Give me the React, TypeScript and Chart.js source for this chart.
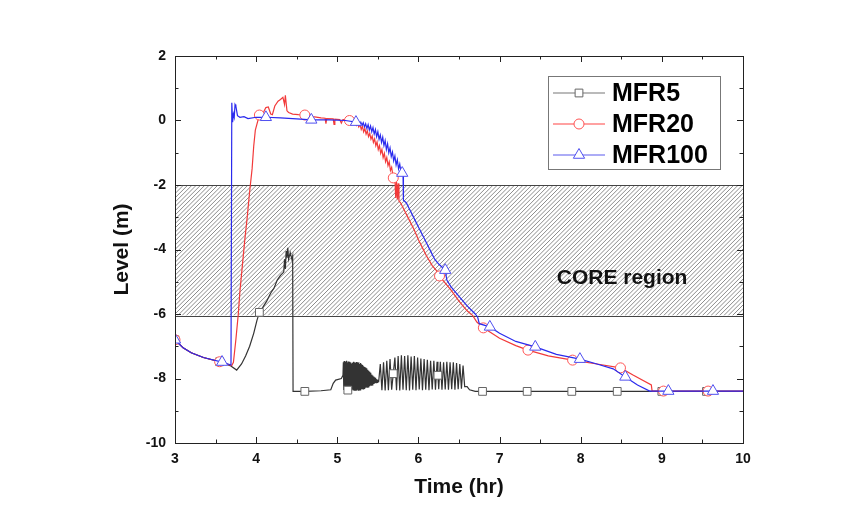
import React, { useEffect, useRef } from "react";
import { Chart, registerables } from "chart.js";

Chart.register(...registerables);

// ---------- data ----------
const seriesNames = ["MFR5", "MFR20", "MFR100"];
const xMajorTicks = [3, 4, 5, 6, 7, 8, 9, 10];
const yMajorTicks = [2, 0, -2, -4, -6, -8, -10];
const coreRegion = [-2, -6.05];
const coreLabel = "CORE region";
const xTitle = "Time (hr)";
const yTitle = "Level (m)";

const mfr5: [number, number][] = [
  [3.0, -6.8], [3.1, -7.05], [3.2, -7.2], [3.35, -7.35], [3.55, -7.48], [3.68, -7.6], [3.76, -7.74],
  [3.82, -7.55], [3.87, -7.3], [3.92, -7.0], [3.97, -6.6], [4.01, -6.2], [4.04, -5.95], [4.08, -5.8],
  [4.13, -5.6], [4.18, -5.35], [4.22, -5.2], [4.26, -4.95], [4.3, -4.8], [4.34, -4.7], [4.35, -4.3],
  [4.36, -4.6], [4.37, -4.05], [4.38, -4.25], [4.39, -3.95], [4.4, -4.3], [4.42, -4.1], [4.44, -4.3],
  [4.45, -4.2], [4.455, -8.4], [4.6, -8.4], [4.8, -8.38], [4.92, -8.35], [4.95, -8.15], [4.98, -8.05],
  [5.05, -8.0], [5.07, -7.9],
  [5.075, -7.5], [5.08, -8.36], [5.085, -7.46], [5.09, -8.38], [5.095, -7.5], [5.1, -8.36], [5.105, -7.48],
  [5.11, -8.37], [5.115, -7.45], [5.12, -8.35], [5.125, -7.5], [5.13, -8.36], [5.135, -7.47], [5.14, -8.38],
  [5.145, -7.52], [5.15, -8.37], [5.155, -7.48], [5.16, -8.35], [5.165, -7.5], [5.17, -8.36], [5.175, -7.54],
  [5.18, -8.34], [5.185, -7.52], [5.19, -8.35], [5.195, -7.5], [5.2, -8.37], [5.205, -7.48], [5.21, -8.36],
  [5.215, -7.5], [5.22, -8.35], [5.225, -7.52], [5.23, -8.36], [5.235, -7.49], [5.24, -8.37], [5.245, -7.5],
  [5.25, -8.35], [5.255, -7.53], [5.26, -8.36], [5.265, -7.5], [5.27, -8.34], [5.275, -7.55], [5.28, -8.35],
  [5.285, -7.52], [5.29, -8.34], [5.295, -7.56], [5.3, -8.33], [5.305, -7.58], [5.31, -8.33], [5.315, -7.6],
  [5.32, -8.32], [5.325, -7.62], [5.33, -8.31], [5.335, -7.64], [5.34, -8.3], [5.345, -7.66], [5.35, -8.29],
  [5.355, -7.68], [5.36, -8.28], [5.365, -7.7], [5.37, -8.27], [5.375, -7.73], [5.38, -8.26], [5.385, -7.76],
  [5.39, -8.25], [5.395, -7.79], [5.4, -8.24], [5.405, -7.82], [5.41, -8.22], [5.415, -7.85], [5.42, -8.21],
  [5.425, -7.88], [5.43, -8.2], [5.435, -7.91], [5.44, -8.18], [5.445, -7.94], [5.45, -8.17], [5.455, -7.96],
  [5.46, -8.15], [5.465, -7.98], [5.47, -8.14], [5.475, -8.0], [5.48, -8.13], [5.485, -8.02], [5.49, -8.12],
  [5.495, -8.04], [5.5, -8.1], [5.51, -8.1],
  [5.53, -7.55], [5.55, -8.36], [5.57, -7.5], [5.59, -8.37], [5.61, -7.45], [5.63, -8.36], [5.65, -7.4],
  [5.67, -8.35], [5.69, -7.85], [5.71, -7.35], [5.73, -8.36], [5.75, -7.3], [5.77, -8.37], [5.79, -7.28],
  [5.81, -8.35], [5.83, -7.3], [5.85, -8.36], [5.87, -7.28], [5.89, -8.37], [5.91, -7.32], [5.93, -8.35],
  [5.95, -7.3], [5.97, -8.36], [5.99, -7.35], [6.01, -8.34], [6.03, -7.38], [6.05, -8.36], [6.07, -7.4],
  [6.09, -8.35], [6.11, -7.42], [6.13, -8.36], [6.15, -7.45], [6.17, -8.34], [6.19, -7.45], [6.21, -8.35],
  [6.23, -7.48], [6.24, -7.9], [6.25, -8.33], [6.27, -7.48], [6.29, -8.35], [6.31, -7.5], [6.33, -8.34],
  [6.35, -7.48], [6.37, -8.35], [6.39, -7.5], [6.41, -8.33], [6.43, -7.5], [6.45, -8.35], [6.47, -7.52],
  [6.49, -8.33], [6.51, -7.55], [6.53, -8.32], [6.55, -7.6], [6.57, -8.25], [6.6, -8.25], [6.63, -8.35],
  [6.7, -8.4], [6.79, -8.4], [7.34, -8.4], [7.89, -8.4], [8.45, -8.4], [9.0, -8.4], [9.55, -8.4], [10.0, -8.4],
];

const mfr20: [number, number][] = [
  [3.0, -6.8], [3.1, -7.05], [3.2, -7.2], [3.35, -7.35], [3.55, -7.48], [3.7, -7.6], [3.72, -7.5],
  [3.75, -6.8], [3.78, -6.0], [3.8, -5.3], [3.83, -4.5], [3.86, -3.7], [3.89, -3.0], [3.92, -2.2],
  [3.95, -1.5], [3.97, -0.8], [3.99, -0.3], [4.04, 0.17], [4.08, 0.2], [4.12, 0.4], [4.15, 0.42],
  [4.18, 0.2], [4.2, 0.18], [4.23, 0.45], [4.27, 0.6], [4.3, 0.65], [4.33, 0.72], [4.35, 0.5],
  [4.36, 0.78], [4.38, 0.3], [4.4, 0.25], [4.45, 0.2], [4.52, 0.18], [4.6, 0.17], [4.7, 0.12],
  [4.8, 0.08], [4.85, 0.07], [4.86, -0.1], [4.87, 0.06], [4.95, 0.05], [4.96, -0.12], [4.97, 0.04],
  [5.03, 0.03], [5.05, -0.08], [5.07, 0.03], [5.12, 0.02], [5.14, -0.1], [5.15, 0.0], [5.22, -0.05],
  [5.235, -0.15], [5.25, -0.08], [5.265, -0.2], [5.28, -0.12], [5.295, -0.28], [5.31, -0.18], [5.325, -0.35],
  [5.34, -0.25], [5.355, -0.42], [5.37, -0.32], [5.385, -0.5], [5.4, -0.4], [5.415, -0.58], [5.43, -0.48],
  [5.445, -0.68], [5.46, -0.57], [5.475, -0.78], [5.49, -0.66], [5.505, -0.9], [5.52, -0.78], [5.535, -1.02],
  [5.55, -0.9], [5.565, -1.15], [5.58, -1.02], [5.595, -1.28], [5.61, -1.15], [5.625, -1.4], [5.64, -1.28],
  [5.655, -1.55], [5.67, -1.45], [5.69, -1.78], [5.71, -1.8], [5.72, -2.4], [5.73, -1.9], [5.74, -2.45],
  [5.75, -1.95], [5.76, -2.5], [5.78, -2.55], [5.82, -2.75], [5.88, -3.05], [5.95, -3.4], [6.0, -3.7],
  [6.05, -3.95], [6.1, -4.2], [6.17, -4.5], [6.22, -4.65], [6.26, -4.82], [6.3, -4.95], [6.4, -5.25],
  [6.5, -5.6], [6.6, -5.9], [6.67, -6.05], [6.72, -6.25], [6.8, -6.43], [7.0, -6.75], [7.2, -6.98],
  [7.35, -7.12], [7.6, -7.3], [7.9, -7.43], [8.2, -7.55], [8.49, -7.67], [8.65, -7.9], [8.87, -8.2],
  [8.88, -8.39], [9.02, -8.39], [9.57, -8.39], [10.0, -8.39],
];

const mfr100: [number, number][] = [
  [3.0, -6.8], [3.1, -7.05], [3.2, -7.2], [3.35, -7.35], [3.58, -7.49], [3.69, -7.58], [3.7, 0.55],
  [3.71, -0.05], [3.72, 0.2], [3.73, 0.1], [3.74, 0.5], [3.75, 0.45], [3.77, 0.15], [3.8, 0.1],
  [3.85, 0.12], [3.9, 0.06], [4.0, 0.1], [4.12, 0.1], [4.3, 0.08], [4.5, 0.05], [4.68, 0.02],
  [4.9, 0.02], [5.1, 0.0], [5.23, -0.05], [5.245, 0.0], [5.26, -0.02], [5.275, -0.12], [5.29, -0.05],
  [5.305, -0.15], [5.32, -0.07], [5.335, -0.2], [5.35, -0.1], [5.365, -0.25], [5.38, -0.13], [5.395, -0.3],
  [5.41, -0.17], [5.425, -0.35], [5.44, -0.22], [5.455, -0.42], [5.47, -0.28], [5.485, -0.5], [5.5, -0.35],
  [5.515, -0.58], [5.53, -0.45], [5.545, -0.68], [5.56, -0.52], [5.575, -0.78], [5.59, -0.62], [5.605, -0.9],
  [5.62, -0.72], [5.635, -1.0], [5.65, -0.85], [5.665, -1.12], [5.68, -0.98], [5.695, -1.25], [5.71, -1.1],
  [5.725, -1.38], [5.74, -1.22], [5.755, -1.5], [5.77, -1.35], [5.785, -1.6], [5.8, -1.63], [5.81, -1.65],
  [5.815, -2.47], [5.85, -2.55], [5.9, -2.8], [5.95, -3.05], [6.0, -3.3], [6.05, -3.55], [6.1, -3.8],
  [6.15, -4.05], [6.2, -4.3], [6.25, -4.45], [6.33, -4.64], [6.35, -4.95], [6.4, -5.15], [6.5, -5.45],
  [6.6, -5.75], [6.7, -6.0], [6.73, -6.1], [6.75, -6.3], [6.88, -6.4], [7.0, -6.6], [7.2, -6.85],
  [7.44, -7.02], [7.7, -7.25], [7.99, -7.4], [8.2, -7.55], [8.4, -7.7], [8.55, -7.95], [8.7, -8.2],
  [8.85, -8.39], [9.08, -8.39], [9.63, -8.39], [10.0, -8.39],
];

const mfr5Markers = [3.0, 3.55, 4.04, 4.6, 5.13, 5.69, 6.24, 6.79, 7.34, 7.89, 8.45, 9.0, 9.55];
const mfr20Markers = [3.0, 3.55, 4.04, 4.6, 5.15, 5.69, 6.26, 6.8, 7.35, 7.9, 8.49, 9.02, 9.57];
const mfr100Markers = [3.0, 3.58, 4.12, 4.68, 5.23, 5.8, 6.33, 6.88, 7.44, 7.99, 8.55, 9.08, 9.63];

// ---------- styles ----------
const FONT = '"Liberation Sans", Arial, sans-serif';
const lineColors = ["#333333", "#f23a3a", "#2a2aee"];
const markerColors = ["#666666", "#ff5555", "#5050f0"];
const legendLineColors = ["#777777", "#ff4444", "#5a5aee"];
const pointStyles = ["rect", "circle", "triangle"];
const pointRadii = [5.5, 5, 6.5];

function drawMarker(ctx: CanvasRenderingContext2D, style: string, x: number, y: number, r: number, color: string) {
  ctx.save();
  ctx.fillStyle = "#ffffff";
  ctx.strokeStyle = color;
  ctx.lineWidth = 1;
  ctx.beginPath();
  if (style === "rect") {
    const s = Math.SQRT1_2 * r;
    ctx.rect(x - s, y - s, 2 * s, 2 * s);
  } else if (style === "circle") {
    ctx.arc(x, y, r, 0, Math.PI * 2);
  } else {
    ctx.moveTo(x, y - r);
    ctx.lineTo(x + Math.cos(Math.PI / 6) * r, y + r / 2);
    ctx.lineTo(x - Math.cos(Math.PI / 6) * r, y + r / 2);
    ctx.closePath();
  }
  ctx.fill();
  ctx.stroke();
  ctx.restore();
}

const decorPlugin = {
  id: "decor",
  beforeDatasetsDraw(chart: any) {
    const { ctx, chartArea: a, scales } = chart;
    const ys = scales.y;
    const xs = scales.x;
    const yTop = ys.getPixelForValue(coreRegion[0]);
    const yBot = ys.getPixelForValue(coreRegion[1]);
    const h = yBot - yTop;
    ctx.save();
    ctx.beginPath();
    ctx.rect(a.left, yTop, a.right - a.left, h);
    ctx.clip();
    ctx.strokeStyle = "#8c8c8c";
    ctx.lineWidth = 1;
    ctx.beginPath();
    for (let sx = a.left - h; sx < a.right + h; sx += 4.3) {
      ctx.moveTo(sx, yBot);
      ctx.lineTo(sx + h, yTop);
    }
    ctx.stroke();
    ctx.restore();

    ctx.save();
    ctx.strokeStyle = "#444444";
    ctx.lineWidth = 1;
    ctx.beginPath();
    ctx.moveTo(a.left, Math.round(yTop) + 0.5);
    ctx.lineTo(a.right, Math.round(yTop) + 0.5);
    ctx.moveTo(a.left, Math.round(yBot) + 0.5);
    ctx.lineTo(a.right, Math.round(yBot) + 0.5);
    ctx.stroke();
    ctx.font = `bold 21px ${FONT}`;
    ctx.fillStyle = "#111111";
    ctx.textAlign = "center";
    ctx.textBaseline = "middle";
    ctx.fillText(coreLabel, xs.getPixelForValue(8.51), ys.getPixelForValue(-4.88));
    ctx.restore();
  },
  afterDraw(chart: any) {
    const { ctx, chartArea: a, scales } = chart;
    const xs = scales.x;
    const ys = scales.y;
    ctx.save();
    // frame
    ctx.strokeStyle = "#222222";
    ctx.lineWidth = 1;
    ctx.strokeRect(Math.round(a.left) + 0.5, Math.round(a.top) + 0.5, Math.round(a.right - a.left), Math.round(a.bottom - a.top));
    // inward ticks
    ctx.beginPath();
    for (let v = 3; v <= 10.001; v += 0.5) {
      const major = Math.abs(v - Math.round(v)) < 1e-6;
      const len = major ? 6 : 3.5;
      const px = Math.round(xs.getPixelForValue(v)) + 0.5;
      ctx.moveTo(px, a.bottom);
      ctx.lineTo(px, a.bottom - len);
      ctx.moveTo(px, a.top);
      ctx.lineTo(px, a.top + len);
    }
    for (let v = -10; v <= 2; v += 1) {
      const major = v % 2 === 0;
      const len = major ? 6 : 3.5;
      const py = Math.round(ys.getPixelForValue(v)) + 0.5;
      ctx.moveTo(a.left, py);
      ctx.lineTo(a.left + len, py);
      ctx.moveTo(a.right, py);
      ctx.lineTo(a.right - len, py);
    }
    ctx.stroke();

    // axis titles
    ctx.fillStyle = "#111111";
    ctx.font = `bold 21px ${FONT}`;
    ctx.textAlign = "center";
    ctx.textBaseline = "middle";
    ctx.fillText(xTitle, (a.left + a.right) / 2, a.bottom + 44);
    ctx.save();
    ctx.translate(122, (a.top + a.bottom) / 2);
    ctx.rotate(-Math.PI / 2);
    ctx.fillText(yTitle, 0, 0);
    ctx.restore();

    // legend
    const bx = a.right - 195;
    const by = a.top + 20;
    const bw = 172;
    const bh = 93;
    ctx.fillStyle = "#ffffff";
    ctx.fillRect(bx, by, bw, bh);
    ctx.strokeStyle = "#777777";
    ctx.strokeRect(bx + 0.5, by + 0.5, bw, bh);
    const rows = [17, 48, 79];
    seriesNames.forEach((name, i) => {
      const ry = by + rows[i];
      ctx.strokeStyle = legendLineColors[i];
      ctx.lineWidth = 1.2;
      ctx.beginPath();
      ctx.moveTo(bx + 5, ry);
      ctx.lineTo(bx + 57, ry);
      ctx.stroke();
      drawMarker(ctx, pointStyles[i], bx + 31, ry, pointRadii[i], markerColors[i]);
      ctx.fillStyle = "#000000";
      ctx.font = `bold 25px ${FONT}`;
      ctx.textAlign = "left";
      ctx.textBaseline = "middle";
      ctx.fillText(name, bx + 64, ry + 1);
    });
    ctx.restore();
  },
};

function makeDataset(idx: number, pts: [number, number][], markers: number[], order: number) {
  const set = new Set(markers);
  return {
    label: seriesNames[idx],
    data: pts.map(([x, y]) => ({ x, y })),
    borderColor: lineColors[idx],
    backgroundColor: "#ffffff",
    borderWidth: 1.2,
    pointStyle: pointStyles[idx],
    pointRadius: (c: any) => (c.raw && set.has(c.raw.x) ? pointRadii[idx] : 0),
    pointBorderColor: markerColors[idx],
    pointBackgroundColor: "#ffffff",
    pointBorderWidth: 1,
    tension: 0,
    order,
  };
}

export default function App() {
  const ref = useRef<HTMLCanvasElement | null>(null);
  useEffect(() => {
    if (!ref.current) return;
    const chart = new Chart(ref.current, {
      type: "line",
      data: {
        datasets: [
          makeDataset(0, mfr5, mfr5Markers, 3),
          makeDataset(1, mfr20, mfr20Markers, 2),
          makeDataset(2, mfr100, mfr100Markers, 1),
        ] as any,
      },
      options: {
        responsive: false,
        animation: false,
        devicePixelRatio: 1,
        events: [],
        layout: { padding: { top: 56, right: 112, left: 0, bottom: 0 } },
        plugins: { legend: { display: false }, tooltip: { enabled: false } },
        scales: {
          x: {
            type: "linear",
            min: 3,
            max: 10,
            afterFit: (s: any) => { s.height = 72; },
            afterBuildTicks: (s: any) => { s.ticks = xMajorTicks.map((v) => ({ value: v })); },
            grid: { display: false, drawTicks: false },
            border: { display: false },
            ticks: { padding: 8, color: "#111111", font: { family: FONT, size: 14, weight: "bold" }, maxRotation: 0 },
          },
          y: {
            type: "linear",
            min: -10,
            max: 2,
            afterFit: (s: any) => { s.width = 175; },
            afterBuildTicks: (s: any) => { s.ticks = yMajorTicks.map((v) => ({ value: v })); },
            grid: { display: false, drawTicks: false },
            border: { display: false },
            ticks: { padding: 9, color: "#111111", font: { family: FONT, size: 14, weight: "bold" } },
          },
        },
      } as any,
      plugins: [decorPlugin],
    });
    return () => chart.destroy();
  }, []);
  return (
    <div style={{ position: "absolute", left: 0, top: 0, width: 855, height: 515, background: "#ffffff" }}>
      <canvas ref={ref} width={855} height={515} style={{ display: "block" }} />
    </div>
  );
}
